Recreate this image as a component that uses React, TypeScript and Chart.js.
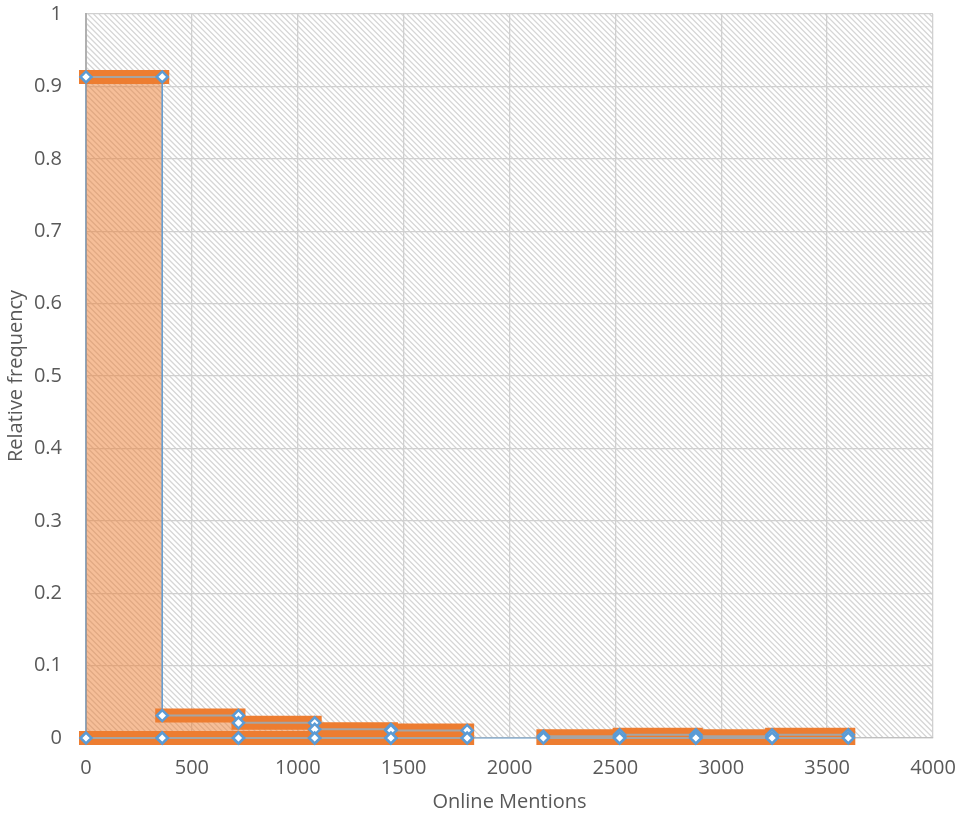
import React, { useEffect, useRef } from "react";
import { Chart, registerables } from "chart.js";

Chart.register(...registerables);

// ---- data ----
const binStarts = [0, 360, 720, 1080, 1440, 1800, 2160, 2520, 2880, 3240];
const binWidth = 360;
const relativeFrequency = [0.913, 0.031, 0.021, 0.012, 0.0105, 0, 0.0025, 0.0045, 0.0025, 0.0045];
const xTickValues = [0, 500, 1000, 1500, 2000, 2500, 3000, 3500, 4000];
const yTickValues = [0, 0.1, 0.2, 0.3, 0.4, 0.5, 0.6, 0.7, 0.8, 0.9, 1];
const xTitle = "Online Mentions";
const yTitle = "Relative frequency";

const FONT = "'Open Sans', 'Noto Sans', sans-serif";
const TEXT = "#595959";
const ORANGE = "#ED7D31";
const BLUE = "#5B9BD5";

function buildStep() {
  const pts: { x: number; y: number }[] = [{ x: binStarts[0], y: 0 }];
  binStarts.forEach((x0, i) => {
    pts.push({ x: x0, y: relativeFrequency[i] });
    pts.push({ x: x0 + binWidth, y: relativeFrequency[i] });
  });
  pts.push({ x: binStarts[binStarts.length - 1] + binWidth, y: 0 });
  return pts;
}

function buildSegments() {
  const pts: { x: number; y: number | null }[] = [];
  binStarts.forEach((x0, i) => {
    const h = relativeFrequency[i];
    if (h <= 0) return;
    const x1 = x0 + binWidth;
    pts.push({ x: x0, y: h }, { x: x1, y: h }, { x: x1, y: null });
    pts.push({ x: x0, y: 0 }, { x: x1, y: 0 }, { x: x1, y: null });
  });
  return pts;
}

const hatchPlugin = {
  id: "hatchBg",
  beforeDraw(chart: any) {
    const { ctx, chartArea: a } = chart;
    ctx.save();
    ctx.fillStyle = "#ffffff";
    ctx.fillRect(a.left, a.top, a.right - a.left, a.bottom - a.top);
    ctx.beginPath();
    ctx.rect(a.left, a.top, a.right - a.left, a.bottom - a.top);
    ctx.clip();
    ctx.strokeStyle = "#d6d6d6";
    ctx.lineWidth = 1.3;
    ctx.beginPath();
    const h = a.bottom - a.top;
    for (let c = a.left - h; c < a.right; c += 5.5) {
      ctx.moveTo(c, a.top);
      ctx.lineTo(c + h, a.bottom);
    }
    ctx.stroke();
    ctx.restore();
  },
};

export default function App() {
  const ref = useRef<HTMLCanvasElement | null>(null);

  useEffect(() => {
    document.body.style.margin = "0";
    const canvas = ref.current;
    if (!canvas) return;
    const segs = buildSegments();
    const chart = new Chart(canvas, {
      type: "line",
      data: {
        datasets: [
          {
            label: "markers",
            data: segs as any,
            borderColor: "#a5a5a5",
            borderWidth: 2,
            spanGaps: false,
            pointStyle: "rectRot",
            pointRadius: 5.5,
            pointBorderWidth: 2.5,
            pointBackgroundColor: "#ffffff",
            pointBorderColor: BLUE,
            fill: false,
            clip: false as any,
            order: 0,
          },
          {
            label: "bars",
            data: segs as any,
            borderColor: ORANGE,
            borderWidth: 14,
            borderCapStyle: "square",
            spanGaps: false,
            pointRadius: 0,
            fill: false,
            clip: false as any,
            order: 1,
          },
          {
            label: "fill",
            data: buildStep() as any,
            borderColor: "rgba(91,155,213,0.8)",
            borderWidth: 1,
            backgroundColor: "rgba(237,125,49,0.5)",
            pointRadius: 0,
            fill: "origin",
            clip: false as any,
            order: 2,
          },
        ],
      },
      options: {
        responsive: false,
        animation: false,
        layout: { padding: { left: 0, top: 14, right: 28, bottom: 0 } },
        plugins: { legend: { display: false }, tooltip: { enabled: false } },
        scales: {
          x: {
            type: "linear",
            min: 0,
            max: 4000,
            afterBuildTicks: (s: any) => {
              s.ticks = xTickValues.map((v) => ({ value: v }));
            },
            afterFit: (s: any) => {
              s.height = 78;
            },
            grid: {
              color: "#d0d0d0",
              lineWidth: 1.3,
              drawTicks: true,
              tickLength: 18,
              tickColor: "rgba(0,0,0,0)",
            },
            border: { display: true, color: "#bfbfbf", width: 1.3 },
            ticks: {
              padding: 0,
              color: TEXT,
              font: { family: FONT, size: 20 },
              maxRotation: 0,
              callback: (v: any) => String(v),
            },
            title: {
              display: true,
              text: xTitle,
              color: TEXT,
              font: { family: FONT, size: 20 },
              padding: { top: 0, bottom: 2 },
            },
          },
          y: {
            type: "linear",
            min: 0,
            max: 1,
            afterBuildTicks: (s: any) => {
              s.ticks = yTickValues.map((v) => ({ value: v }));
            },
            afterFit: (s: any) => {
              s.width = 86;
            },
            grid: {
              color: "#d0d0d0",
              lineWidth: 1.3,
              drawTicks: true,
              tickLength: 24,
              tickColor: "rgba(0,0,0,0)",
            },
            border: { display: true, color: "#b0b0b0", width: 2 },
            ticks: {
              padding: 0,
              color: TEXT,
              font: { family: FONT, size: 20 },
              callback: (v: any) => String(Math.round(Number(v) * 10) / 10),
            },
            title: {
              display: true,
              text: yTitle,
              color: TEXT,
              font: { family: FONT, size: 20 },
              padding: { top: 4, bottom: 0 },
            },
          },
        },
      },
      plugins: [hatchPlugin],
    });
    return () => chart.destroy();
  }, []);

  return (
    <div style={{ width: 961, height: 816 }}>
      <canvas ref={ref} width={961} height={816} style={{ display: "block" }} />
    </div>
  );
}
